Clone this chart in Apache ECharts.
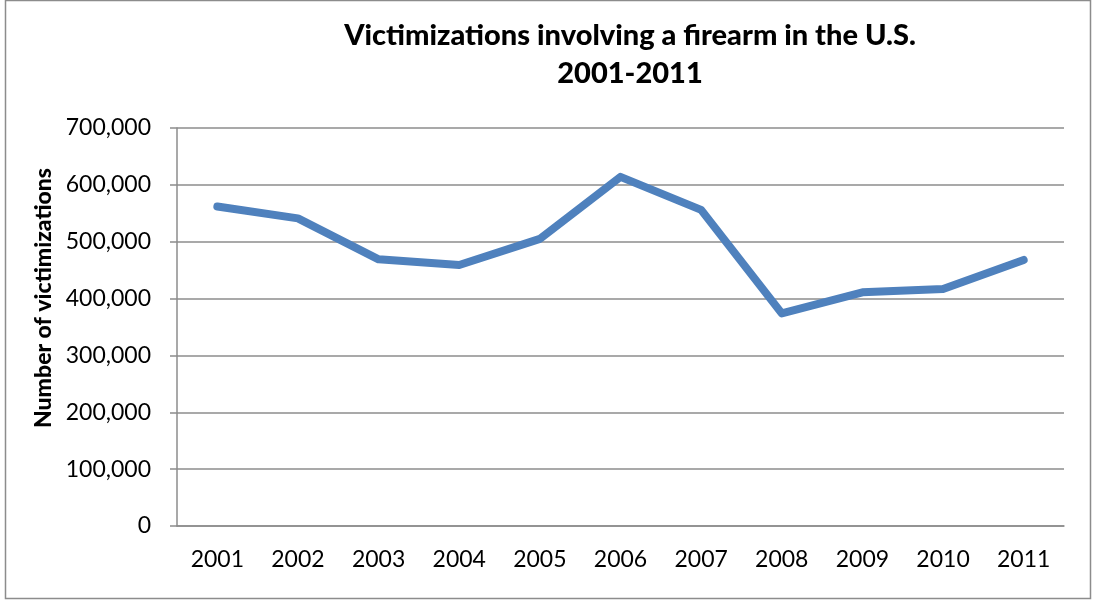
<!DOCTYPE html>
<html>
<head>
<meta charset="utf-8">
<script src="https://cdn.jsdelivr.net/npm/echarts@6/dist/echarts.min.js"></script>
<style>html,body{margin:0;padding:0;background:#fff}#c{width:1093px;height:600px}</style>
</head>
<body>
<div id="c"></div>
<script>
const years = ['2001','2002','2003','2004','2005','2006','2007','2008','2009','2010','2011'];
const victimizations = [562000, 541000, 469000, 459000, 505000, 614000, 556000, 374000, 411000, 417000, 468000];
const titleLines = ['Victimizations involving a firearm in the U.S.', '2001-2011'];
const yAxisName = 'Number of victimizations';

const chart = echarts.init(document.getElementById('c'), null, {renderer: 'canvas'});
const font = 'Lato, "Open Sans", sans-serif';
chart.setOption({
  animation: false,
  backgroundColor: '#fff',
  title: {
    text: titleLines.join('\n'),
    left: 625,
    top: 12,
    textAlign: 'center',
    textStyle: {fontFamily: font, fontSize: 29, fontWeight: 900, color: '#000', lineHeight: 38}
  },
  graphic: [{
    type: 'rect', shape: {x: 5.5, y: 0.5, width: 1085, height: 598},
    style: {fill: 'none', stroke: '#8c8c8c', lineWidth: 1.5}, silent: true, z: -1
  }],
  grid: {left: 177, right: 29, top: 128, bottom: 74, containLabel: false},
  xAxis: {
    type: 'category',
    data: years,
    boundaryGap: true,
    axisLine: {lineStyle: {color: '#8c8c8c', width: 1.5}},
    axisTick: {show: false},
    axisLabel: {fontFamily: font, fontSize: 23, color: '#000', margin: 22}
  },
  yAxis: {
    type: 'value',
    min: 0, max: 700000, interval: 100000,
    name: yAxisName,
    nameLocation: 'middle',
    nameRotate: 90,
    nameGap: 119,
    nameTextStyle: {fontFamily: font, fontSize: 23, fontWeight: 900, color: '#000', padding: [0, 0, 0, 58]},
    axisLine: {show: true, lineStyle: {color: '#8c8c8c', width: 1.5}},
    axisTick: {show: true, length: 7, lineStyle: {color: '#8c8c8c', width: 1.5}},
    axisLabel: {
      fontFamily: font, fontSize: 23, color: '#000', margin: 26,
      formatter: v => v.toLocaleString('en-US')
    },
    splitLine: {lineStyle: {color: '#8c8c8c', width: 1.5}}
  },
  series: [{
    type: 'line',
    data: victimizations,
    showSymbol: false,
    symbol: 'none',
    lineStyle: {color: '#4F81BD', width: 8, cap: 'round', join: 'round'}
  }]
});
</script>
</body>
</html>
